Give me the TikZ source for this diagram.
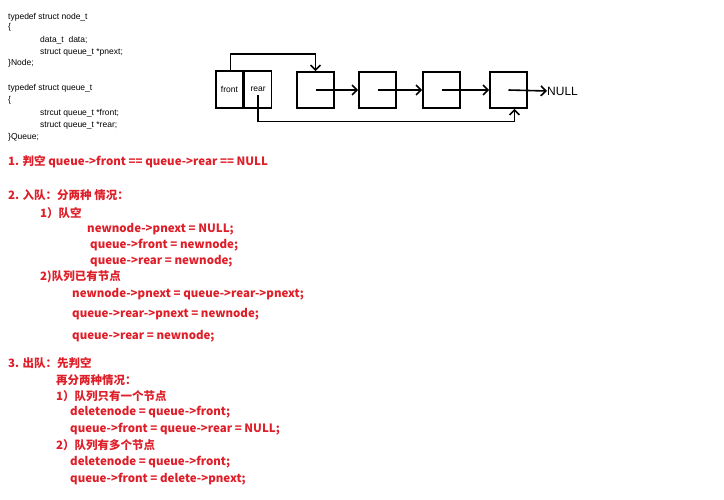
\documentclass[tikz,border=0pt]{standalone}
\usepackage{fontspec}
\setmainfont{Liberation Sans}
\newfontfamily\cjk{Noto Sans CJK SC}
\usetikzlibrary{arrows.meta,positioning}
\definecolor{notered}{RGB}{222,30,40}
\tikzset{
  code/.style={anchor=west,font=\fontsize{8.5}{9}\selectfont,inner sep=0pt},
  note/.style={anchor=west,text=notered,font=\cjk\bfseries\fontsize{11.5}{12}\selectfont,inner sep=0pt},
  cell/.style={draw,line width=1.6pt,minimum width=37pt,minimum height=36pt,inner sep=0pt},
  half/.style={draw,line width=1.6pt,minimum width=27pt,minimum height=37pt,inner sep=0pt,font=\fontsize{8.5}{9}\selectfont},
  link/.style={line width=1.6pt,-{Straight Barb[length=5pt]}}
}
\begin{document}
\begin{tikzpicture}[x=1pt,y=-1pt]
  \useasboundingbox (0,0) rectangle (724,500);

  % struct definitions
  \node[code] (c1) at (8,17) {typedef struct node\_t};
  \node[code] (c2) at (8,27) {\{};
  \node[code] (c3) at (40,40) {data\_t\ \ data;};
  \node[code] (c4) at (40,52) {struct queue\_t *pnext;};
  \node[code] (c5) at (8,63) {\}Node;};
  \node[code] (c6) at (8,88) {typedef struct queue\_t};
  \node[code] (c7) at (8,100) {\{};
  \node[code] (c8) at (40,113) {strcut queue\_t *front;};
  \node[code] (c9) at (40,125) {struct queue\_t *rear;};
  \node[code] (c10) at (8,137) {\}Queue;};

  % queue picture
  \node[half] (F) at (229.5,89.5) {front};
  \node[half] (R) [right=0pt of F] {rear};
  \node[cell] (N1) at (315.5,90) {};
  \node[cell] (N2) at (377.5,90) {};
  \node[cell] (N3) at (441.5,90) {};
  \node[cell] (N4) at (508.5,90) {};
  \node[anchor=west,inner sep=0pt,font=\fontsize{12}{13}\selectfont] (NULL) at (547,91) {NULL};

  \draw[link] (F.north) ++(1,0) coordinate (fa) -- ++(0,-16) -| (N1.north);
  \draw[link] (R.center) ++(0,6) -- ++(0,26) -| ([xshift=6pt]N4.south);
  \draw[link] (N1.center) -- (N2.west);
  \draw[link] (N2.center) -- (N3.west);
  \draw[link] (N3.center) -- (N4.west);
  \draw[link] (N4.center) -- (NULL.west);

  % notes
  \node[note] (n1) at (8,162) {1. 判空 queue->front == queue->rear == NULL};
  \node[note] (n2) at (8,195) {2. 入队：分两种 情况：};
  \node[note] (n3) at (40,213) {1）队空};
  \node[note] (n4) at (87,229) {newnode->pnext = NULL;};
  \node[note] (n5) at (90,245) {queue->front = newnode;};
  \node[note] (n6) at (90,261) {queue->rear = newnode;};
  \node[note] (n7) at (40,277) {2)队列已有节点};
  \node[note] (n8) at (72,294) {newnode->pnext = queue->rear->pnext;};
  \node[note] (n9) at (72,314) {queue->rear->pnext = newnode;};
  \node[note] (n10) at (72,336) {queue->rear = newnode;};
  \node[note] (n11) at (8,363) {3. 出队：先判空};
  \node[note] (n12) at (56,380) {再分两种情况：};
  \node[note] (n13) at (56,396) {1）队列只有一个节点};
  \node[note] (n14) at (70,412) {deletenode = queue->front;};
  \node[note] (n15) at (70,429) {queue->front = queue->rear = NULL;};
  \node[note] (n16) at (56,445) {2）队列有多个节点};
  \node[note] (n17) at (70,462) {deletenode = queue->front;};
  \node[note] (n18) at (70,479) {queue->front = delete->pnext;};
\end{tikzpicture}
\end{document}
